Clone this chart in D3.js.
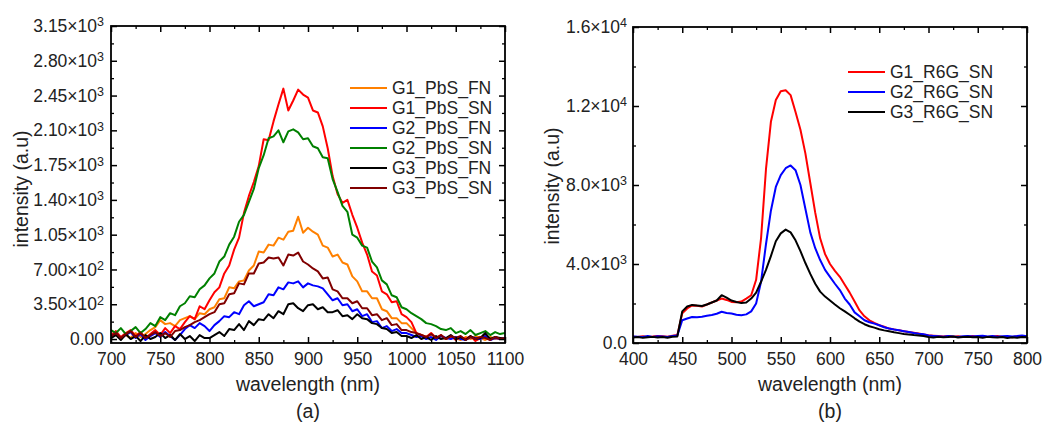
<!DOCTYPE html>
<html>
<head>
<meta charset="utf-8">
<script src="https://cdn.jsdelivr.net/npm/d3@7"></script>
<style>
  body { margin: 0; background: #fff; }
  text { font-family: "Liberation Sans", Arial, sans-serif; fill: #222; }
</style>
</head>
<body>
<div id="my_dataviz"></div>
<script>
// ---- panel (a) data, 700..1100 nm every 5 nm
var wlA = d3.range(700, 1101, 5);

var g1PbsFN = [20, 50, 0, 40, 10, 60, 20, 50, 90, 120,
  190, 150, 160, 130, 190, 210, 230, 200, 260, 250,
  300, 320, 400, 410, 520, 510, 580, 590, 690, 740,
  880, 870, 950, 940, 1020, 1000, 1080, 1090, 1230, 1070,
  1120, 1080, 1050, 940, 920, 830, 850, 770, 750, 630,
  580, 480, 480, 410, 410, 300, 280, 210, 210, 160,
  160, 110, 60, 40, 20, 50, 10, 30, 0, 20,
  10, -10, 20, 0, 30, 10, -10, 20, 0, 10,
  0];
var g1PbsSN = [40, 80, 20, 60, 90, 30, 70, 10, 50, 90,
  40, 110, 60, 130, 100, 170, 230, 200, 330, 300,
  390, 470, 520, 660, 740, 900, 1020, 1270, 1440, 1580,
  1740, 2010, 2000, 2190, 2360, 2520, 2300, 2400, 2510, 2460,
  2430, 2300, 2280, 2140, 1920, 1640, 1460, 1370, 1400, 1250,
  1120, 970, 850, 680, 640, 480, 450, 370, 380, 250,
  220, 170, 60, 40, 20, 60, 10, 40, 0, 30,
  -10, 20, 0, 30, -20, 10, 30, -10, 20, 0,
  10];
var g2PbsFN = [20, 60, 0, 40, 70, 10, 50, -10, 30, 60,
  20, 70, 30, -10, 40, 100, 140, 110, 160, 130,
  80, 140, 180, 230, 220, 270, 250, 340, 380, 330,
  350, 370, 450, 440, 520, 500, 570, 560, 580, 520,
  560, 540, 530, 510, 450, 390, 410, 340, 350, 280,
  300, 230, 250, 170, 180, 110, 130, 80, 100, 60,
  60, 40, 20, 30, 0, 20, -10, 30, 10, 0,
  20, 0, -10, 20, 10, 0, 30, -10, 10, 0,
  10];
var g2PbsSN = [90, 60, 110, 50, 80, 120, 60, 100, 160, 130,
  220, 190, 260, 240, 330, 360, 430, 420, 500, 540,
  610, 660, 780, 830, 950, 1030, 1180, 1250, 1380, 1510,
  1720, 1850, 2020, 2040, 2100, 1980, 2090, 2110, 2080, 2010,
  2020, 1940, 1920, 1830, 1820, 1610, 1480, 1340, 1280, 1050,
  1020, 940, 920, 780, 720, 590, 550, 440, 420, 320,
  300, 260, 230, 200, 160, 150, 130, 100, 90, 110,
  60, 80, 50, 90, 40, 60, 80, 40, 70, 50,
  60];
var g3PbsFN = [10, 40, -10, 50, 0, 30, -20, 40, 0, 20,
  60, 10, 40, -10, 50, 0, 30, -20, 40, 10,
  10, 40, 70, 30, 100, 90, 150, 90, 180, 140,
  200, 190, 250, 210, 280, 250, 350, 360, 310, 280,
  340, 350, 300, 320, 270, 270, 290, 230, 240, 200,
  250, 210, 200, 160, 150, 110, 100, 60, 70, 30,
  30, 10, 40, 0, 20, -10, 30, 0, 10, 40,
  0, 20, -10, 30, 0, 10, 60, 0, 20, 10,
  0];
var g3PbsSN = [30, 60, 10, 50, 80, 20, 60, 10, 40, 70,
  30, 60, 20, 80, 90, 120, 140, 170, 190, 220,
  250, 270, 350, 360, 450, 460, 560, 550, 660, 660,
  760, 770, 820, 810, 820, 740, 850, 840, 870, 780,
  750, 710, 680, 610, 620, 500, 480, 410, 410, 360,
  380, 310, 310, 240, 250, 190, 210, 140, 150, 90,
  90, 70, 60, 40, 20, 50, 10, 40, 0, 30,
  10, 30, -10, 20, 0, 20, 10, -10, 20, 0,
  10];

var namesA = ["G1_PbS_FN", "G1_PbS_SN", "G2_PbS_FN", "G2_PbS_SN", "G3_PbS_FN", "G3_PbS_SN"];
var colorsA = ["#ff8000", "#ff0000", "#0000ff", "#008000", "#000000", "#800000"];
var seriesA = [g1PbsFN, g1PbsSN, g2PbsFN, g2PbsSN, g3PbsFN, g3PbsSN];

var yTicksA = [0, 350, 700, 1050, 1400, 1750, 2100, 2450, 2800, 3150];
var yMantA = ["0.00", "3.50", "7.00", "1.05", "1.40", "1.75", "2.10", "2.45", "2.80", "3.15"];
var yExpA = ["", "2", "2", "3", "3", "3", "3", "3", "3", "3"];
var xTicksA = [700, 750, 800, 850, 900, 950, 1000, 1050, 1100];

// ---- panel (b) data, 400..800 nm every 5 nm
var wlB = d3.range(400, 801, 5);

var g1R6G = [320, 300, 340, 310, 330, 360, 340, 320, 370, 400,
  1500, 1750, 1900, 1880, 1850, 1950, 2050, 2150, 2250, 2180,
  2080, 2060, 2100, 2250, 2420, 3200, 5300, 8800, 11200, 12300,
  12750, 12800, 12550, 11700, 10800, 9600, 8100, 6600, 5300, 4500,
  4000, 3650, 3350, 2950, 2550, 2100, 1650, 1350, 1150, 1020,
  900, 820, 730, 690, 640, 600, 560, 520, 480, 430,
  390, 370, 350, 330, 360, 320, 340, 310, 330, 350,
  320, 340, 300, 330, 350, 310, 320, 290, 340, 310,
  330];
var g2R6G = [330, 320, 310, 350, 300, 340, 330, 310, 350, 380,
  1150, 1240, 1320, 1300, 1330, 1380, 1420, 1480, 1580, 1520,
  1490, 1430, 1410, 1450, 1600, 2000, 3100, 5000, 6700, 7900,
  8500, 8850, 8990, 8750, 8000, 6800, 5600, 4800, 4200, 3700,
  3350, 3000, 2680, 2250, 1950, 1550, 1350, 1150, 1050, 980,
  900, 800, 730, 680, 640, 600, 560, 510, 470, 440,
  380, 360, 340, 320, 350, 330, 310, 340, 360, 330,
  350, 370, 330, 360, 320, 340, 360, 330, 350, 380,
  340];
var g3R6G = [280, 300, 260, 290, 310, 280, 300, 270, 320, 330,
  1600, 1850, 1930, 1900, 1870, 1950, 2050, 2150, 2420, 2300,
  2150, 2080, 2020, 2050, 2250, 2550, 3100, 3700, 4400, 5150,
  5550, 5740, 5600, 5200, 4650, 4050, 3500, 3000, 2600, 2350,
  2150, 1950, 1760, 1600, 1430, 1250, 1080, 950, 850, 780,
  700, 640, 590, 540, 500, 460, 430, 400, 380, 350,
  300, 280, 310, 290, 300, 330, 280, 300, 320, 290,
  300, 270, 310, 290, 280, 300, 250, 290, 270, 300,
  290];

var namesB = ["G1_R6G_SN", "G2_R6G_SN", "G3_R6G_SN"];
var colorsB = ["#ff0000", "#0000ff", "#000000"];
var seriesB = [g1R6G, g2R6G, g3R6G];

var yTicksB = [0, 4000, 8000, 12000, 16000];
var yMantB = ["0.0", "4.0", "8.0", "1.2", "1.6"];
var yExpB = ["", "3", "3", "4", "4"];
var xTicksB = [400, 450, 500, 550, 600, 650, 700, 750, 800];

var svg = d3.select("#my_dataviz")
  .append("svg")
  .attr("width", 1043)
  .attr("height", 425);

function drawPanel(opt) {
  var left = opt.left, right = opt.right, top = opt.top, bottom = opt.bottom;

  var x = d3.scaleLinear().domain(opt.xDomain).range([left, right]);
  var y = d3.scaleLinear().domain(opt.yDomain).range([bottom, top]);

  var clipId = "clip" + opt.id;
  svg.append("clipPath").attr("id", clipId)
    .append("rect")
    .attr("x", left).attr("y", top)
    .attr("width", right - left).attr("height", bottom - top);

  // lines
  var line = d3.line()
    .x(function(d, i) { return x(opt.wl[i]); })
    .y(function(d) { return y(d); });

  svg.append("g")
    .attr("clip-path", "url(#" + clipId + ")")
    .selectAll("path")
    .data(opt.series)
    .enter()
    .append("path")
      .attr("d", line)
      .attr("fill", "none")
      .attr("stroke", function(d, i) { return opt.colors[i]; })
      .attr("stroke-width", 2)
      .attr("stroke-linejoin", "round");

  // minor ticks (all four sides)
  var xMinor = opt.xTicks.slice(0, -1).map(function(v, i) { return (v + opt.xTicks[i + 1]) / 2; });
  var yMinor = opt.yTicks.slice(0, -1).map(function(v, i) { return (v + opt.yTicks[i + 1]) / 2; });

  function minorAxis(axis, tr) {
    svg.append("g").attr("transform", tr)
      .call(axis.tickSize(-3).tickFormat(""))
      .call(function(g) { g.select(".domain").remove(); })
      .selectAll("line").attr("stroke", "#000").attr("stroke-width", 1.3);
  }
  minorAxis(d3.axisBottom(x).tickValues(xMinor), "translate(0," + bottom + ")");
  minorAxis(d3.axisTop(x).tickValues(xMinor), "translate(0," + top + ")");
  minorAxis(d3.axisLeft(y).tickValues(yMinor), "translate(" + left + ",0)");
  minorAxis(d3.axisRight(y).tickValues(yMinor), "translate(" + right + ",0)");

  // major ticks without labels on top/right
  function majorNoLabel(axis, tr) {
    svg.append("g").attr("transform", tr)
      .call(axis.tickSize(-6).tickFormat(""))
      .call(function(g) { g.select(".domain").remove(); })
      .selectAll("line").attr("stroke", "#000").attr("stroke-width", 1.5);
  }
  majorNoLabel(d3.axisTop(x).tickValues(opt.xTicks), "translate(0," + top + ")");
  majorNoLabel(d3.axisRight(y).tickValues(opt.yTicks), "translate(" + right + ",0)");

  // bottom axis with labels
  var gx = svg.append("g")
    .attr("transform", "translate(0," + bottom + ")")
    .call(d3.axisBottom(x).tickValues(opt.xTicks).tickSize(-6).tickPadding(10).tickFormat(d3.format("d")));
  gx.select(".domain").remove();
  gx.selectAll("line").attr("stroke", "#000").attr("stroke-width", 1.5);
  gx.selectAll("text").attr("font-size", "17.5px").attr("fill", "#222")
    .attr("font-family", "'Liberation Sans', Arial, sans-serif");

  // left axis with a×10^b labels
  var gy = svg.append("g")
    .attr("transform", "translate(" + left + ",0)")
    .call(d3.axisLeft(y).tickValues(opt.yTicks).tickSize(-6).tickPadding(opt.yPad).tickFormat(""));
  gy.select(".domain").remove();
  gy.selectAll("line").attr("stroke", "#000").attr("stroke-width", 1.5);
  gy.selectAll("text")
    .attr("font-size", "17.5px").attr("fill", "#222")
    .attr("font-family", "'Liberation Sans', Arial, sans-serif")
    .each(function(d, i) {
      var t = d3.select(this);
      if (opt.yExp[i] === "") {
        t.text(opt.yMant[i]);
      } else {
        t.text(opt.yMant[i] + "×10");
        t.append("tspan").attr("dy", "-0.45em").attr("font-size", "12.5px").text(opt.yExp[i]);
      }
    });

  // frame
  svg.append("rect")
    .attr("x", left).attr("y", top)
    .attr("width", right - left).attr("height", bottom - top)
    .attr("fill", "none").attr("stroke", "#000").attr("stroke-width", 1.8);

  // axis titles
  var cx = (left + right) / 2;
  svg.append("text")
    .attr("x", cx).attr("y", 391)
    .attr("text-anchor", "middle")
    .attr("font-size", "19.5px")
    .text("wavelength (nm)");
  svg.append("text")
    .attr("x", cx).attr("y", 418)
    .attr("text-anchor", "middle")
    .attr("font-size", "19.5px")
    .text(opt.label);
  svg.append("text")
    .attr("transform", "translate(" + opt.yTitleX + "," + opt.yTitleY + ") rotate(-90)")
    .attr("text-anchor", "middle")
    .attr("dy", "0.35em")
    .attr("font-size", "19.5px")
    .text("intensity (a.u)");

  // legend
  var lg = svg.append("g");
  opt.names.forEach(function(n, i) {
    var ly = opt.legY + i * 20;
    lg.append("line")
      .attr("x1", opt.legX).attr("x2", opt.legX + 37)
      .attr("y1", ly).attr("y2", ly)
      .attr("stroke", opt.colors[i]).attr("stroke-width", 2);
    lg.append("text")
      .attr("x", opt.legX + 42).attr("y", ly)
      .attr("dy", "0.35em")
      .attr("font-size", "17.5px")
      .text(n);
  });
}

drawPanel({
  id: "a", left: 111, right: 505, top: 26, bottom: 343,
  xDomain: [700, 1100], yDomain: [-40, 3150],
  wl: wlA, series: seriesA, colors: colorsA, names: namesA,
  xTicks: xTicksA, yTicks: yTicksA, yMant: yMantA, yExp: yExpA, yPad: 7,
  label: "(a)", yTitleX: 21, yTitleY: 189,
  legX: 350, legY: 88
});

drawPanel({
  id: "b", left: 633, right: 1027, top: 27, bottom: 343,
  xDomain: [400, 800], yDomain: [0, 16000],
  wl: wlB, series: seriesB, colors: colorsB, names: namesB,
  xTicks: xTicksB, yTicks: yTicksB, yMant: yMantB, yExp: yExpB, yPad: 6,
  label: "(b)", yTitleX: 552, yTitleY: 186,
  legX: 848, legY: 72
});
</script>
</body>
</html>
